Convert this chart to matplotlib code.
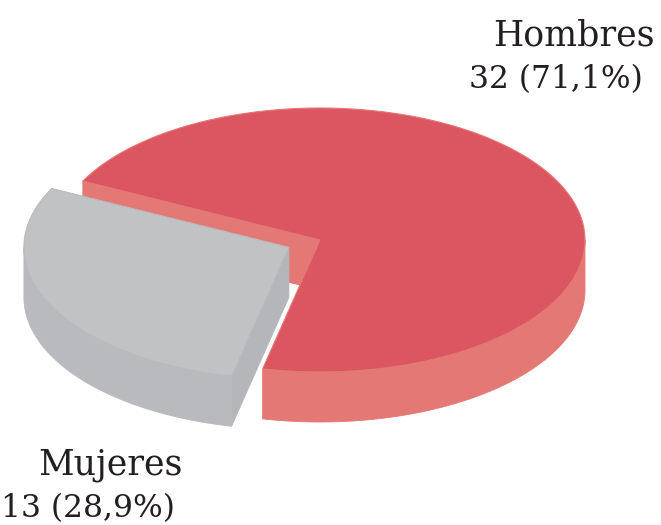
import numpy as np
import matplotlib.pyplot as plt
from matplotlib.patches import Polygon
from matplotlib import font_manager

# data
labels = ["Hombres", "Mujeres"]
counts = [32, 13]
value_labels = ["32 (71,1%)", "13 (28,9%)"]

# styling
top_colors = ["#dc5661", "#c1c2c4"]
side_colors = ["#e47874", "#b9babd"]
cut_colors = ["#e47874", "#b5b6ba"]
explode = [0.0, 0.13]

W, H = 661, 525
cx, cy = 320, 240        # pie centre (pixels)
rx, ry = 265, 132        # ellipse radii
depth = 50               # thickness of the pie
start = 257.5            # angle where the first slice starts (deg, ccw)

fig = plt.figure(figsize=(W / 100, H / 100), dpi=100)
ax = fig.add_axes([0, 0, 1, 1])
ax.set_xlim(0, W)
ax.set_ylim(H, 0)
ax.axis("off")


def rim(t, ox, oy, dz=0.0):
    t = np.radians(t)
    return ox + rx * np.cos(t), oy - ry * np.sin(t) + dz


def arc(t0, t1, ox, oy, dz=0.0, n=120):
    ts = np.linspace(t0, t1, n)
    return [rim(t, ox, oy, dz) for t in ts]


# slice angles from the values
total = float(sum(counts))
spans = [c / total * 360 for c in counts]
wedges = []
a = start
for i, s in enumerate(spans):
    t0, t1 = a, a + s
    mid = np.radians((t0 + t1) / 2)
    ox = cx + explode[i] * rx * np.cos(mid)
    oy = cy - explode[i] * ry * np.sin(mid)
    wedges.append((i, t0, t1, ox, oy, np.sin(mid)))
    a = t1

# far slices first
wedges.sort(key=lambda w: -w[5])

for i, t0, t1, ox, oy, _ in wedges:
    # radial cut faces facing the viewer
    for t, normal in ((t0, t0 - 90), (t1, t1 + 90)):
        if np.sin(np.radians(normal)) < 0:
            p = rim(t, ox, oy)
            q = rim(t, ox, oy, depth)
            face = [(ox, oy), p, q, (ox, oy + depth)]
            ax.add_patch(Polygon(face, closed=True, facecolor=cut_colors[i],
                                 edgecolor=cut_colors[i], lw=0.6))
    # outer wall (front half only)
    for lo, hi in ((180, 360), (540, 720)):
        a0, a1 = max(t0, lo), min(t1, hi)
        if a1 > a0:
            pts = arc(a0, a1, ox, oy) + arc(a0, a1, ox, oy, depth)[::-1]
            ax.add_patch(Polygon(pts, closed=True, facecolor=side_colors[i],
                                 edgecolor=side_colors[i], lw=0.6))
    # top face
    pts = [(ox, oy)] + arc(t0, t1, ox, oy)
    ax.add_patch(Polygon(pts, closed=True, facecolor=top_colors[i],
                         edgecolor=side_colors[i], lw=0.8))

# narrower face for the numbers if available
try:
    font_manager.findfont("DejaVu Serif Condensed", fallback_to_default=False)
    num_family, num_size = "DejaVu Serif Condensed", 25
except ValueError:
    num_family, num_size = "DejaVu Serif", 22.5

label_font = dict(family="DejaVu Serif", fontsize=25, color="#231f20")
num_font = dict(family=num_family, fontsize=num_size, color="#231f20")
ax.text(655, 45, labels[0], ha="right", va="baseline", **label_font)
ax.text(643, 88, value_labels[0], ha="right", va="baseline", **num_font)
ax.text(183, 475, labels[1], ha="right", va="baseline", **label_font)
ax.text(1, 517, value_labels[1], ha="left", va="baseline", **num_font)

fig.savefig("out.png", dpi=100)
